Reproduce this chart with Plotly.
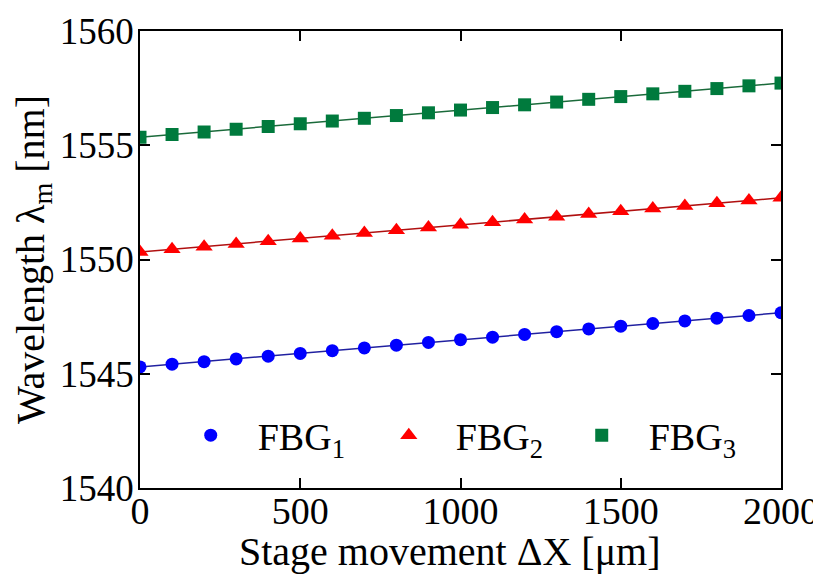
import plotly.graph_objects as go

x_um = [0, 100, 200, 300, 400, 500, 600, 700, 800, 900, 1000,
        1100, 1200, 1300, 1400, 1500, 1600, 1700, 1800, 1900, 2000]
fbg1 = [1545.30, 1545.42, 1545.53, 1545.65, 1545.77, 1545.89, 1546.01, 1546.13, 1546.25, 1546.37, 1546.49,
        1546.60, 1546.72, 1546.84, 1546.96, 1547.08, 1547.20, 1547.31, 1547.43, 1547.55, 1547.67]
fbg2 = [1550.33, 1550.45, 1550.56, 1550.68, 1550.80, 1550.92, 1551.04, 1551.16, 1551.28, 1551.40, 1551.52,
        1551.63, 1551.75, 1551.87, 1551.99, 1552.11, 1552.23, 1552.34, 1552.46, 1552.58, 1552.70]
fbg3 = [1555.35, 1555.47, 1555.58, 1555.70, 1555.82, 1555.94, 1556.06, 1556.18, 1556.30, 1556.42, 1556.54,
        1556.65, 1556.77, 1556.89, 1557.01, 1557.13, 1557.25, 1557.36, 1557.48, 1557.60, 1557.72]
names = ["FBG<sub>1</sub>", "FBG<sub>2</sub>", "FBG<sub>3</sub>"]
series = [fbg1, fbg2, fbg3]
marker_colors = ["#0000FF", "#FF0000", "#007A3D"]
line_colors = ["#2020A0", "#B01010", "#1A6A3A"]
symbols = ["circle", "triangle-up", "square"]
sizes = [13, 15, 13]
legend_ids = ["legend", "legend2", "legend3"]
legend_x = [0.037, 0.346, 0.647]
x_title = "Stage movement ΔX [μm]"
y_title = "Wavelength λ<sub>m</sub> [nm]"

FONT = "Liberation Serif"
fig = go.Figure()
for ys, lc in zip(series, line_colors):
    fig.add_trace(go.Scatter(x=x_um, y=ys, mode="lines", line=dict(color=lc, width=1.5),
                             showlegend=False, hoverinfo="skip"))
for ys, nm, mc, sym, sz, lg in zip(series, names, marker_colors, symbols, sizes, legend_ids):
    fig.add_trace(go.Scatter(x=x_um, y=ys, mode="markers", name=nm, legend=lg,
                             marker=dict(color=mc, symbol=sym, size=sz, line=dict(width=0))))

axis_common = dict(showgrid=False, zeroline=False, showline=True, linecolor="black", linewidth=1.5,
                   mirror="ticks", ticks="inside", ticklen=10, tickwidth=1.5, tickcolor="black",
                   automargin=False)
fig.update_xaxes(range=[0, 2000], tickvals=[0, 500, 1000, 1500, 2000], ticklabelstandoff=-11,
                 tickfont=dict(family=FONT, size=38, color="black"),
                 **axis_common)
fig.update_yaxes(range=[1540, 1560], tickvals=[1540, 1545, 1550, 1555, 1560], ticklabelstandoff=-3,
                 tickfont=dict(family=FONT, size=37, color="black"),
                 title=dict(text=y_title, font=dict(family=FONT, size=40, color="black"), standoff=4),
                 **axis_common)
legend_common = dict(orientation="h", y=0.115, xanchor="left", yanchor="middle",
                     bgcolor="rgba(0,0,0,0)", font=dict(family=FONT, size=38, color="black"),
                     itemwidth=84)
fig.add_annotation(text=x_title, xref="paper", yref="paper", x=0.483, y=-0.139,
                   xanchor="center", yanchor="middle", showarrow=False,
                   font=dict(family=FONT, size=40, color="black"))
fig.update_layout(
    width=813, height=571,
    margin=dict(l=132, r=40, t=23, b=91),
    plot_bgcolor="white", paper_bgcolor="white",
    font=dict(family=FONT, size=38, color="black"),
    legend=dict(x=legend_x[0], **legend_common),
    legend2=dict(x=legend_x[1], **legend_common),
    legend3=dict(x=legend_x[2], **legend_common),
)
fig.write_html("out.html")
